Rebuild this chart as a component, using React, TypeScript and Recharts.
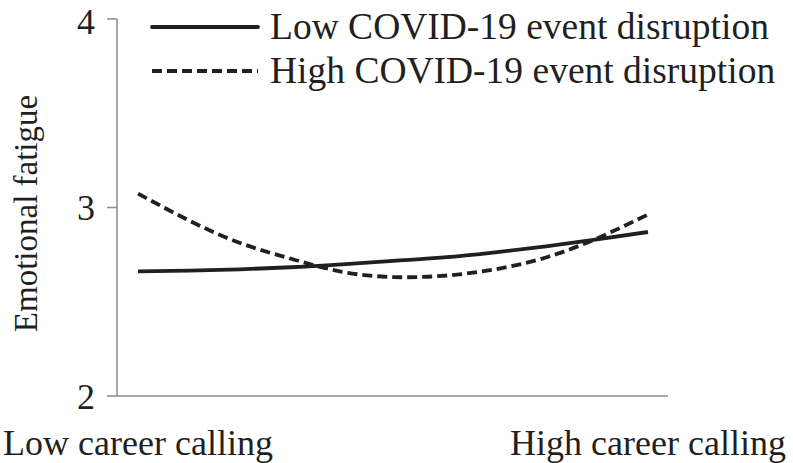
import React from 'react';
import { LineChart, Line, XAxis, YAxis, Legend } from 'recharts';

// positions along the career-calling axis (low -> high)
const callingSteps = [0, 1, 2, 3, 4, 5, 6, 7, 8, 9, 10];
const lowDisruption = [2.661, 2.665, 2.672, 2.683, 2.698, 2.717, 2.735, 2.762, 2.794, 2.831, 2.87];
const highDisruption = [3.074, 2.931, 2.812, 2.728, 2.659, 2.631, 2.638, 2.672, 2.735, 2.836, 2.963];
const xTickLabels = ['Low career calling', 'High career calling'];
const yTicks = [2, 3, 4];

const data = callingSteps.map((step, i) => ({
  step,
  low: lowDisruption[i],
  high: highDisruption[i],
}));

const ink = '#231f20';
const axisGray = '#8c8c8c';
const font = '"Liberation Serif", "Times New Roman", serif';

const formatX = (v: number) => (v === 0 ? xTickLabels[0] : xTickLabels[1]);

const LegendBox = () => (
  <svg width={793} height={95} style={{ display: 'block', overflow: 'visible' }}>
    <line x1={152} y1={27} x2={258} y2={27} stroke={ink} strokeWidth={3.8} strokeLinecap="round" />
    <line x1={152} y1={71} x2={258} y2={71} stroke={ink} strokeWidth={3.8} strokeDasharray="10 5" />
    <text x={270} y={39} fontSize={37.5} fill={ink} fontFamily={font}>Low COVID-19 event disruption</text>
    <text x={270} y={83} fontSize={37.5} fill={ink} fontFamily={font}>High COVID-19 event disruption</text>
  </svg>
);

const YTitle = (props: any) => {
  const vb = props.viewBox || { y: 19, height: 377 };
  const cx = 37;
  const cy = vb.y + vb.height / 2 + 6;
  return (
    <text x={cx} y={cy} transform={`rotate(-90, ${cx}, ${cy})`} textAnchor="middle" fontSize={33} fill={ink} fontFamily={font}>
      Emotional fatigue
    </text>
  );
};

export default function App() {
  return (
    <div style={{ position: 'absolute', left: 0, top: 0, background: '#fff' }}>
      <LineChart width={793} height={463} data={data} margin={{ top: 19, right: 125, bottom: 0, left: 0 }}>
        <XAxis
          dataKey="step"
          type="number"
          domain={[0, 10]}
          ticks={[0, 10]}
          tickFormatter={formatX}
          padding={{ left: 21, right: 20 }}
          height={67}
          stroke={axisGray}
          strokeWidth={1.5}
          tickLine={false}
          tickSize={0}
          tickMargin={33}
          tick={{ fontSize: 36, fill: ink, fontFamily: font }}
          interval={0}
        />
        <YAxis
          domain={[2, 4]}
          ticks={yTicks}
          width={117}
          stroke={axisGray}
          strokeWidth={1.5}
          tickSize={10}
          tickMargin={12}
          tick={{ fontSize: 36, fill: ink, fontFamily: font }}
          label={<YTitle />}
        />
        <Legend
          layout="horizontal"
          verticalAlign="middle"
          wrapperStyle={{ position: 'absolute', left: 0, top: 0, width: 793 }}
          content={() => <LegendBox />}
        />
        <Line type="natural" dataKey="low" stroke={ink} strokeWidth={3.8} dot={false} isAnimationActive={false} />
        <Line type="natural" dataKey="high" stroke={ink} strokeWidth={3.8} strokeDasharray="10 5" dot={false} isAnimationActive={false} />
      </LineChart>
    </div>
  );
}
